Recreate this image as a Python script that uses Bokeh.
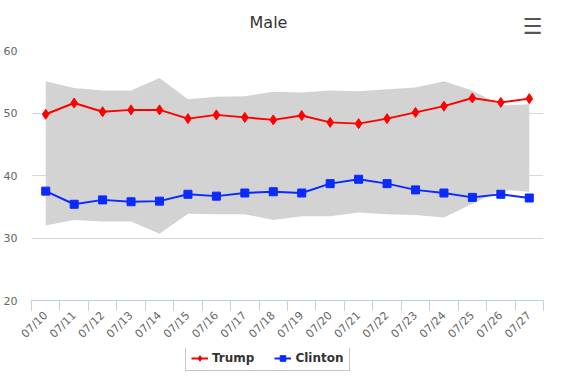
from bokeh.plotting import figure
from bokeh.models import (Range1d, FixedTicker, Legend, LegendItem, Label, ColumnDataSource)
from bokeh.layouts import column
from bokeh.embed import file_html
from bokeh.resources import INLINE
import math

dates = ["07/10", "07/11", "07/12", "07/13", "07/14", "07/15", "07/16", "07/17", "07/18",
         "07/19", "07/20", "07/21", "07/22", "07/23", "07/24", "07/25", "07/26", "07/27"]
trump = [49.8, 51.6, 50.2, 50.5, 50.5, 49.1, 49.7, 49.3, 48.9,
         49.6, 48.5, 48.3, 49.1, 50.1, 51.1, 52.4, 51.7, 52.3]
clinton = [37.5, 35.4, 36.1, 35.8, 35.9, 37.0, 36.7, 37.2, 37.4,
           37.2, 38.7, 39.4, 38.7, 37.7, 37.2, 36.5, 37.0, 36.4]
range_high = [55.1, 54.0, 53.6, 53.6, 55.6, 52.2, 52.6, 52.7, 53.4,
              53.3, 53.6, 53.5, 53.8, 54.1, 55.1, 53.6, 51.2, 51.4]
range_low = [32.0, 32.9, 32.65, 32.65, 30.7, 33.9, 33.8, 33.8, 32.9,
             33.5, 33.5, 34.1, 33.8, 33.7, 33.3, 35.5, 37.7, 37.4]
y_ticks = [20, 30, 40, 50, 60]
title_text = "Male"
series_names = ["Trump", "Clinton"]

FONT = "DejaVu Sans"
RED = "#ff0000"
BLUE = "#0a2aff"
W = 545

n = len(dates)
xpos = [i + 0.5 for i in range(n)]
src = ColumnDataSource(dict(x=xpos, date=dates, trump=trump, clinton=clinton,
                            hi=range_high, lo=range_low))

# ---------- header (title + menu icon); frame is aligned with the chart frame ----------
head = figure(width=W, height=44, output_backend="svg", toolbar_location=None,
              x_range=Range1d(0, 1), y_range=Range1d(0, 1),
              min_border=0, x_axis_type=None, y_axis_type=None)
head.outline_line_color = None
head.grid.visible = False
head.add_layout(Label(x=237, y=22, x_units="screen", y_units="screen", text=title_text,
                      text_align="center", text_baseline="middle", text_font=FONT,
                      text_font_size="16px", text_color="#333333"))
head.add_layout(Label(x=511, y=18, x_units="screen", y_units="screen", text="\u2630",
                      text_align="right", text_baseline="middle", text_font=FONT,
                      text_font_size="22px", text_color="#555555"))

# ---------- main chart ----------
p = figure(width=W, height=304, output_backend="svg", toolbar_location=None,
           x_range=Range1d(0, n), y_range=Range1d(20, 60),
           min_border_left=31, min_border_right=2, min_border_top=6, min_border_bottom=0)
p.outline_line_color = None

p.varea(x="x", y1="lo", y2="hi", source=src, fill_color="#d3d3d3", fill_alpha=1.0)
p.line("x", "trump", source=src, line_color=RED, line_width=2)
p.scatter("x", "trump", source=src, marker="diamond", size=10,
          fill_color=RED, line_color=RED)
p.line("x", "clinton", source=src, line_color=BLUE, line_width=2)
p.scatter("x", "clinton", source=src, marker="square", size=8,
          fill_color=BLUE, line_color=BLUE)

xa = p.xaxis[0]
xa.ticker = FixedTicker(ticks=xpos, minor_ticks=list(range(n + 1)))
xa.major_label_overrides = {x: d for x, d in zip(xpos, dates)}
xa.major_label_orientation = math.pi / 4
xa.major_tick_in = 0
xa.major_tick_out = 0
xa.minor_tick_in = 0
xa.minor_tick_out = 10
xa.minor_tick_line_color = "#C0D0E0"
xa.axis_line_color = "#C0D0E0"
xa.major_label_text_font = FONT
xa.major_label_text_font_size = "11px"
xa.major_label_text_color = "#666666"
xa.major_label_standoff = 3
xa.axis_label_standoff = 0
p.xgrid.visible = False

ya = p.yaxis[0]
ya.ticker = FixedTicker(ticks=y_ticks)
ya.axis_line_color = None
ya.major_tick_line_color = None
ya.major_tick_out = 0
ya.major_tick_in = 0
ya.minor_tick_line_color = None
ya.major_label_text_font = FONT
ya.major_label_text_font_size = "11px"
ya.major_label_text_color = "#666666"
ya.major_label_standoff = 14
p.ygrid.ticker = FixedTicker(ticks=y_ticks)
p.ygrid.grid_line_color = "#D8D8D8"

# ---------- legend strip (its series lie outside this strip's ranges) ----------
leg = figure(width=W, height=23, output_backend="svg", toolbar_location=None,
             x_range=Range1d(-100, -99), y_range=Range1d(-100, -99),
             min_border=0, x_axis_type=None, y_axis_type=None)
leg.outline_line_color = None
leg.grid.visible = False
lt = leg.line("x", "trump", source=src, line_color=RED, line_width=2)
lts = leg.scatter("x", "trump", source=src, marker="diamond", size=10, fill_color=RED, line_color=RED)
lc = leg.line("x", "clinton", source=src, line_color=BLUE, line_width=2)
lcs = leg.scatter("x", "clinton", source=src, marker="square", size=8, fill_color=BLUE, line_color=BLUE)
legend = Legend(items=[LegendItem(label=series_names[0], renderers=[lt, lts]),
                       LegendItem(label=series_names[1], renderers=[lc, lcs])],
                orientation="horizontal", location=(154, 0),
                label_text_font=FONT, label_text_font_size="12px",
                label_text_font_style="bold", label_text_color="#333333",
                border_line_color="#909090", border_line_width=1,
                background_fill_color="white", background_fill_alpha=1.0,
                padding=5, spacing=20, glyph_width=17, glyph_height=14,
                label_standoff=4, margin=0, label_height=14)
leg.add_layout(legend, "center")

layout = column(head, p, leg, spacing=0)
open("out.html", "w").write(file_html(layout, INLINE))
